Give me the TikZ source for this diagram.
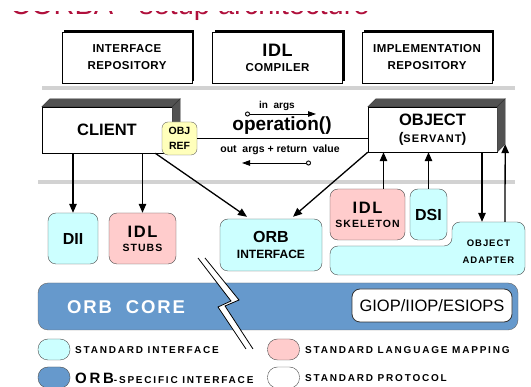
\documentclass[tikz,border=0pt]{standalone}
\usepackage{fontspec}
\setmainfont{Liberation Sans}
\newfontfamily\widefont[LetterSpace=10]{Liberation Sans}
\newfontfamily\repofont[LetterSpace=4]{Liberation Sans}
\newfontfamily\legfont[LetterSpace=18]{Liberation Sans}
\usepackage{xcolor}
\usetikzlibrary{positioning,arrows.meta,calc,shadows}

\definecolor{stdcyan}{HTML}{CCFFFF}
\definecolor{pinkmap}{HTML}{FFCCCC}
\definecolor{orbblue}{HTML}{6699CC}
\definecolor{refyellow}{HTML}{FFFFBB}
\definecolor{titlered}{HTML}{B0103C}

\begin{document}
\begin{tikzpicture}[x=1pt, y=-1pt,
  lbl/.style={font=\widefont\bfseries\fontsize{10.5}{14}\selectfont, align=center},
  repo/.style={draw, fill=white, minimum width=130pt, minimum height=51pt, align=center, font=\repofont\bfseries\fontsize{11.5}{17}\selectfont, general shadow={fill=black, shadow xshift=2pt, shadow yshift=2pt}},
  tier/.style={draw, fill=white, minimum width=130pt, minimum height=46pt, align=center, font=\bfseries\fontsize{16.5}{18}\selectfont},
  face/.style={draw=black!80, fill=black!68},
  iface/.style={draw=black!70, fill=stdcyan, rounded corners=8pt, align=center, font=\widefont\bfseries\fontsize{10.5}{14}\selectfont},
  langmap/.style={iface, fill=pinkmap},
  arr/.style={-{Triangle[length=9pt,width=7.5pt]}, line width=1.3pt},
  msg/.style={{Circle[open,length=5pt,fill=white]}-{Triangle[length=8pt,width=5.5pt]}, line width=0.9pt},
  sep/.style={gray!35, line width=3.5pt},
  legkey/.style={draw=black!70, rounded corners=10pt, minimum width=32pt, minimum height=21pt},
  legtxt/.style={anchor=west, font=\legfont\bfseries\fontsize{10}{12}\selectfont, inner sep=0pt}]
  \useasboundingbox (0,0) rectangle (531,387);
  \fill[white] (0,0) rectangle (531,387);

  % slide title, only its lower edge is left in view
  \node[anchor=base west, text=titlered, font=\fontsize{29}{30}\selectfont, inner sep=0pt] (title) at (10,14.5) {CORBA - setup architecture};
  \fill[white] (-5,-40) rectangle (536,11.5);

  % repositories and compiler
  \node[repo] (irepo) at (127,57.5) {INTERFACE\\REPOSITORY};
  \node[repo] (idlc) at (277.5,57.5) {{\fontsize{18}{18}\selectfont IDL}\\[-2pt]COMPILER};
  \node[repo] (implrepo) at (427,57.5) {IMPLEMENTATION\\REPOSITORY};
  \draw[sep] (42,88) -- (515,88);
  \draw[sep] (38,182) -- (515,182);

  % client and object (3d boxes)
  \node[tier] (client) at (107,130) {CLIENT};
  \filldraw[face] (client.north west) -- ++(8,-8) -- ($(client.north east)+(8,-8)$) -- (client.north east) -- cycle;
  \filldraw[face] (client.north east) -- ++(8,-8) -- ($(client.south east)+(8,-8)$) -- (client.south east) -- cycle;
  \node[tier, minimum width=129pt, minimum height=45pt] (object) at (432.5,129.5) {OBJECT\\[-1pt]{\fontsize{14}{14}\selectfont(}{\widefont\fontsize{11}{12}\selectfont SERVANT}{\fontsize{14}{14}\selectfont)}};
  \filldraw[face] (object.north west) -- ++(8,-8) -- ($(object.north east)+(8,-8)$) -- (object.north east) -- cycle;
  \filldraw[face] (object.north east) -- ++(8,-8) -- ($(object.south east)+(8,-8)$) -- (object.south east) -- cycle;
  \coordinate (objcorner) at ($(object.south east)+(8,-8)$);
  \node[draw=black!60, fill=refyellow, rounded corners=6pt, minimum width=35pt, minimum height=33pt, inner sep=1pt, align=center, font=\bfseries\fontsize{10.5}{15}\selectfont] (objref) at (179.5,138.5) {OBJ\\REF};

  % request line
  \draw[line width=0.8pt] (objref.east) -- (objref.east -| object.west);
  \node[font=\bfseries\fontsize{10}{12}\selectfont] (inargs) at (277,106) {in\ \ args};
  \coordinate (inA) at (245,114);
  \coordinate (inB) at (316,114);
  \draw[msg] (inA) -- (inB);
  \node[font=\bfseries\fontsize{19}{20}\selectfont] (op) at (282,126) {operation()};
  \node[font=\bfseries\fontsize{10.5}{12}\selectfont] (outargs) at (280,150) {out\ \ args + return\ \ value};
  \coordinate (outA) at (311,163);
  \coordinate (outB) at (242,163);
  \draw[msg] (outA) -- (outB);

  % interfaces
  \node[iface, minimum width=50pt, minimum height=51pt, font=\bfseries\fontsize{16}{18}\selectfont] (dii) at (73,238.5) {DII};
  \node[langmap, minimum width=67pt, minimum height=51pt] (stubs) at (142.5,238.5) {{\bfseries\fontsize{16.5}{18}\selectfont IDL}\\STUBS};
  \node[iface, minimum width=102pt, minimum height=52pt, font=\bfseries\fontsize{12}{16}\selectfont] (orbif) at (271,245) {{\fontsize{16}{18}\selectfont ORB}\\INTERFACE};
  \node[langmap, minimum width=75pt, minimum height=51pt] (skel) at (367.5,214.5) {{\bfseries\fontsize{16.5}{18}\selectfont IDL}\\SKELETON};
  \node[iface, minimum width=37pt, minimum height=51pt, font=\bfseries\fontsize{16}{18}\selectfont] (dsi) at (428.5,214.5) {DSI};
  \draw[draw=black!70, fill=stdcyan, rounded corners=8pt] (330,275) -- (330,246) -- (452,246) -- (452,222) -- (525,222) -- (525,275) -- cycle;
  \node[lbl, minimum width=73pt, minimum height=59pt, font=\widefont\bfseries\fontsize{9.5}{17}\selectfont] (adapter) at (488.5,251.5) {OBJECT\\ADAPTER};

  \draw[arr] (client.south -| dii.north) -- (dii.north);
  \draw[arr] (client.south -| stubs.north) -- (stubs.north);
  \draw[arr] ([xshift=-17pt]client.south east) -- ([xshift=-24pt,yshift=2pt]orbif.north);
  \draw[arr] (object.south west) -- ([xshift=22pt,yshift=2pt]orbif.north);
  \draw[arr] ([xshift=16pt]skel.north) -- ([xshift=16pt]skel.north |- object.south);
  \draw[arr] (dsi.north) -- (dsi.north |- object.south);
  \draw[arr] ([xshift=49.5pt]object.south) -- ([xshift=-6.5pt]adapter.north);
  \draw[arr] ([xshift=16.5pt]adapter.north) -- (objcorner);

  % orb core
  \node[draw=black!60, fill=orbblue, rounded corners=10pt, minimum width=480pt, minimum height=47pt] (core) at (278,306.5) {};
  \node[text=white, font=\widefont\bfseries\fontsize{18.5}{20}\selectfont] (corelbl) at (126,307) {ORB\ \ CORE};
  \node[draw=black!80, fill=white, rounded corners=8pt, minimum width=160pt, minimum height=33pt, line width=0.8pt, font=\fontsize{16.5}{18}\selectfont] (giop) at (432,305.5) {GIOP/IIOP/ESIOPS};

  % break mark
  \fill[white] (198,258) -- (231,301) -- (218,307) -- (246,349) -- (253,349) -- (225,306) -- (239,300) -- (205,258) -- cycle;
  \draw[line width=0.8pt] (198,258) -- (231,301) -- (218,307) -- (246,349);
  \draw[line width=0.8pt] (205,258) -- (239,300) -- (225,306) -- (253,349);

  % legend
  \node[legkey, fill=stdcyan] (legstd) at (54,349.5) {};
  \node[legtxt] (legstdtxt) at (75,350) {STANDARD\ INTERFACE};
  \node[legkey, fill=orbblue] (legorb) at (54,377.5) {};
  \node[legtxt] (legorbtxt) at (75,378) {{\fontsize{15}{15}\selectfont ORB}-SPECIFIC\ INTERFACE};
  \node[legkey, fill=pinkmap] (leglang) at (283.5,349.5) {};
  \node[legtxt] (leglangtxt) at (305,350) {STANDARD\ LANGUAGE\ MAPPING};
  \node[legkey, fill=white] (legproto) at (283.5,377.5) {};
  \node[legtxt] (legprototxt) at (305,378) {STANDARD\ PROTOCOL};
\end{tikzpicture}
\end{document}
